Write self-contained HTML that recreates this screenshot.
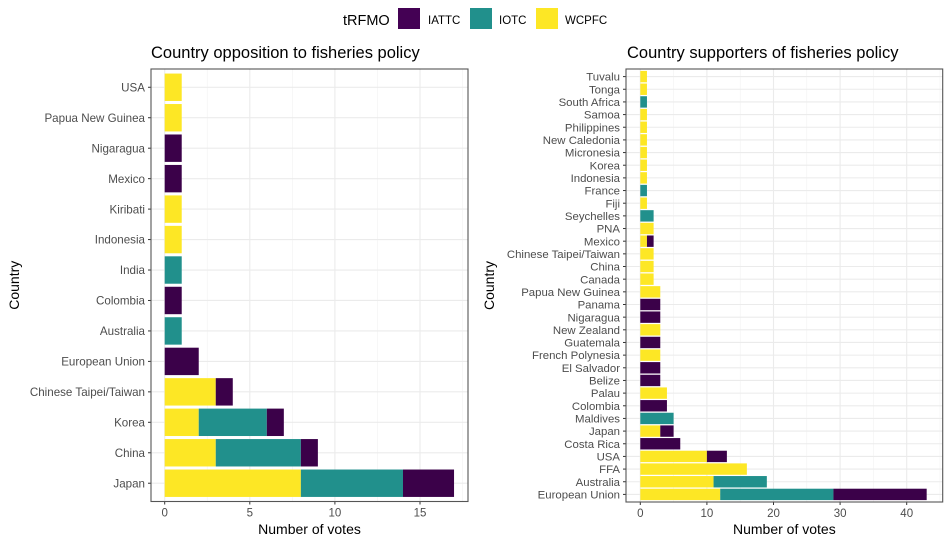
<!DOCTYPE html>
<html><head><meta charset="utf-8"><style>
body{margin:0;background:#fff;font-family:"Liberation Sans",Arial,sans-serif}
svg text{font-family:"Liberation Sans",Arial,sans-serif}
</style></head><body>
<svg id="c" width="951" height="544" xmlns="http://www.w3.org/2000/svg">
<g>
<text x="343" y="25" font-size="14.5" fill="#000">tRFMO</text>
<rect x="398" y="8" width="22" height="21" fill="#440154"/>
<text x="428" y="24" font-size="11.5">IATTC</text>
<rect x="470" y="8" width="22" height="21" fill="#21908C"/>
<text x="499" y="24" font-size="11.5">IOTC</text>
<rect x="536" y="8" width="22" height="21" fill="#FDE725"/>
<text x="565" y="24" font-size="11.5">WCPFC</text>
</g>
</svg>
<script>
// Opposition panel data (bottom to top)
const oppCountries=["Japan","China","Korea","Chinese Taipei/Taiwan","European Union","Australia","Colombia","India","Indonesia","Kiribati","Mexico","Nigaragua","Papua New Guinea","USA"];
const oppWCPFC=[8,3,2,3,0,0,0,0,1,1,0,0,1,1];
const oppIOTC=[6,5,4,0,0,1,0,1,0,0,0,0,0,0];
const oppIATTC=[3,1,1,1,2,0,1,0,0,0,1,1,0,0];
const oppTicks=[0,5,10,15];
// Supporters panel data (bottom to top)
const supCountries=["European Union","Australia","FFA","USA","Costa Rica","Japan","Maldives","Colombia","Palau","Belize","El Salvador","French Polynesia","Guatemala","New Zealand","Nigaragua","Panama","Papua New Guinea","Canada","China","Chinese Taipei/Taiwan","Mexico","PNA","Seychelles","Fiji","France","Indonesia","Korea","Micronesia","New Caledonia","Philippines","Samoa","South Africa","Tonga","Tuvalu"];
const supWCPFC=[12,11,16,10,0,3,0,0,4,0,0,3,0,3,0,0,3,2,2,2,1,2,0,1,0,1,1,1,1,1,1,0,1,1];
const supIOTC=[17,8,0,0,0,0,5,0,0,0,0,0,0,0,0,0,0,0,0,0,0,0,2,0,1,0,0,0,0,0,0,1,0,0];
const supIATTC=[14,0,0,3,6,2,0,4,0,3,3,0,3,0,3,3,0,0,0,0,1,0,0,0,0,0,0,0,0,0,0,0,0,0];
const supTicks=[0,10,20,30,40];
const COLORS={W:"#FDE725",I:"#21908C",A:"#3B0149"};
const svg=document.getElementById('c');
const NS="http://www.w3.org/2000/svg";
function mk(t,a,p){const e=document.createElementNS(NS,t);for(const k in a)e.setAttribute(k,a[k]);(p||svg).appendChild(e);return e;}
function panel(o){
  const g=mk('g',{});
  
  
  const n=o.cats.length;
  const xs=v=>o.x0+v*(o.x1val-o.x0)/o.max1;
  const ys=i=>o.bottom-(0.6+i)*(o.bottom-o.top)/(n-1+1.2);
  const bw=0.9*(o.bottom-o.top)/(n+0.2);
  mk('rect',{x:o.L,y:o.top,width:o.R-o.L,height:o.bottom-o.top,fill:'#fff'},g);
  for(let k=0;k<o.ticks.length;k++){const v=o.ticks[k]+o.step/2;const x=xs(v);if(x<o.R)mk('line',{x1:x,x2:x,y1:o.top,y2:o.bottom,stroke:'#F2F2F2','stroke-width':0.6},g);}
  for(const t of o.ticks){const x=xs(t);const l=mk('line',{x1:x,x2:x,y1:o.top,y2:o.bottom,stroke:'#EBEBEB','stroke-width':1.1},g);
    
    const tx=mk('text',{x:x,y:o.bottom+15,'font-size':11.5,'text-anchor':'middle',fill:'#4D4D4D'},g);tx.textContent=t;
    
    mk('line',{x1:x,x2:x,y1:o.bottom,y2:o.bottom+3,stroke:'#333','stroke-width':1},g);}
  for(let i=0;i<n;i++){const y=ys(i);mk('line',{x1:o.L,x2:o.R,y1:y,y2:y,stroke:'#EBEBEB','stroke-width':1.1},g);}
  for(let i=0;i<n;i++){
    const y=ys(i);let acc=0;
    const segs=[['W',o.W[i]],['I',o.I[i]],['A',o.A[i]]];
    for(const [k,v] of segs){if(v>0){const r=mk('rect',{x:xs(acc),y:y-bw/2,width:xs(acc+v)-xs(acc),height:bw,fill:COLORS[k]},g);
      
      }acc+=v;}
    const t=mk('text',{x:o.L-6,y:y+(o.fs*0.36),'font-size':o.fs,'text-anchor':'end',fill:'#4D4D4D'},g);t.textContent=o.cats[i];
    
    mk('line',{x1:o.L-3,x2:o.L,y1:y,y2:y,stroke:'#333','stroke-width':1},g);
  }
  mk('rect',{x:o.L,y:o.top,width:o.R-o.L,height:o.bottom-o.top,fill:'none',stroke:'#555','stroke-width':1.1},g);
  const ti=mk('text',{x:o.titleX,y:58,'font-size':16.5,fill:'#000'},g);ti.textContent=o.title;
  
  const xt=mk('text',{x:(o.L+o.R)/2,y:534,'font-size':14,'text-anchor':'middle',fill:'#000'},g);xt.textContent='Number of votes';
  
  const yt=mk('text',{x:0,y:0,'font-size':14,'text-anchor':'middle',fill:'#000',transform:`translate(${o.yTitleX},${(o.top+o.bottom)/2}) rotate(-90)`},g);yt.textContent='Country';
  
}
panel({name:'opposition-panel',cats:oppCountries,W:oppWCPFC,I:oppIOTC,A:oppIATTC,ticks:oppTicks,step:5,
  L:151,R:468,top:69,bottom:501.5,x0:164.7,x1val:420,max1:15,fs:11.6,title:'Country opposition to fisheries policy',titleX:151,yTitleX:19});
panel({name:'supporters-panel',cats:supCountries,W:supWCPFC,I:supIOTC,A:supIATTC,ticks:supTicks,step:10,
  L:626,R:942.7,top:69,bottom:502,x0:640.3,x1val:906.7,max1:40,fs:11.4,title:'Country supporters of fisheries policy',titleX:627,yTitleX:494});
</script>
</body></html>
